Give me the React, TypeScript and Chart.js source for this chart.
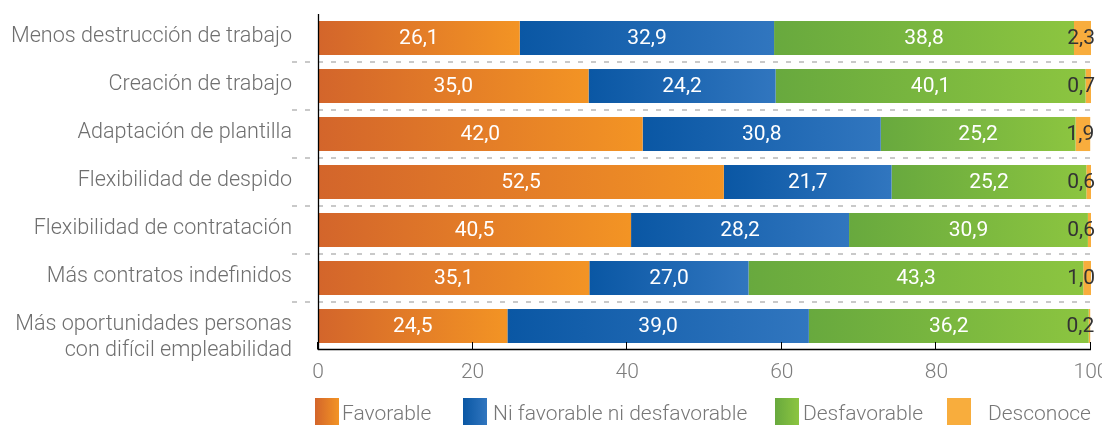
import React, { useEffect, useRef } from "react";
import { Chart, registerables } from "chart.js";

Chart.register(...registerables);

const categories: (string | string[])[] = [
  "Menos destrucción de trabajo",
  "Creación de trabajo",
  "Adaptación de plantilla",
  "Flexibilidad de despido",
  "Flexibilidad de contratación",
  "Más contratos indefinidos",
  ["", "Más oportunidades personas", "con difícil empleabilidad"],
];

const seriesNames = ["Favorable", "Ni favorable ni desfavorable", "Desfavorable", "Desconoce"];

const favorable = [26.1, 35.0, 42.0, 52.5, 40.5, 35.1, 24.5];
const neutral = [32.9, 24.2, 30.8, 21.7, 28.2, 20.6, 39.0];
const unfavorable = [38.8, 40.1, 25.2, 25.2, 30.9, 43.3, 36.2];
const unknown = [2.3, 0.7, 1.9, 0.6, 0.6, 1.0, 0.2];

// printed labels (the original prints 27,0 on a bar drawn about 20.6 wide)
const neutralPrinted = ["32,9", "24,2", "30,8", "21,7", "28,2", "27,0", "39,0"];

const xTicks = [0, 20, 40, 60, 80, 100];

const series = [favorable, neutral, unfavorable, unknown];
const gradients: [string, string][] = [
  ["#d3652b", "#f39424"],
  ["#0a57a4", "#3176bf"],
  ["#68a93e", "#8cc540"],
  ["#f8ad3d", "#f8ad3d"],
];

const FONT = "Roboto";
const fmt = (v: number) => v.toFixed(1).replace(".", ",");

const decor = {
  id: "decor",
  afterDatasetsDraw(chart: any) {
    const { ctx, chartArea: a, scales } = chart;
    const xs = scales.x;
    const ys = scales.y;
    ctx.save();
    // dashed separators
    ctx.strokeStyle = "#c9c9c9";
    ctx.lineWidth = 2;
    ctx.setLineDash([5, 8]);
    for (let i = 0; i < categories.length - 1; i++) {
      const y = Math.round((ys.getPixelForValue(i) + ys.getPixelForValue(i + 1)) / 2);
      ctx.beginPath();
      ctx.moveTo(a.left - 26, y);
      ctx.lineTo(a.right, y);
      ctx.stroke();
    }
    ctx.setLineDash([]);
    // axes
    ctx.strokeStyle = "#000";
    ctx.lineWidth = 1.3;
    ctx.beginPath();
    ctx.moveTo(a.left + 0.5, a.top);
    ctx.lineTo(a.left + 0.5, a.bottom - 0.5);
    ctx.lineTo(a.right, a.bottom - 0.5);
    ctx.stroke();
    ctx.lineWidth = 1;
    for (const t of xTicks) {
      const x = Math.round(xs.getPixelForValue(t)) - 0.5;
      ctx.beginPath();
      ctx.moveTo(x, a.bottom - 0.5);
      ctx.lineTo(x, a.bottom - 8);
      ctx.stroke();
    }
    // value labels
    ctx.font = `400 21px ${FONT}`;
    ctx.textBaseline = "middle";
    chart.data.datasets.forEach((ds: any, di: number) => {
      const meta = chart.getDatasetMeta(di);
      meta.data.forEach((el: any, i: number) => {
        const txt = di === 1 ? neutralPrinted[i] : fmt(series[di][i]);
        if (di === 3) {
          ctx.fillStyle = "#333333";
          ctx.textAlign = "right";
          ctx.fillText(txt, Math.min(el.x, a.right) + 4, el.y + 1);
        } else {
          ctx.fillStyle = "#ffffff";
          ctx.textAlign = "center";
          ctx.fillText(txt, (el.x + el.base) / 2, el.y + 1);
        }
      });
    });
    ctx.restore();
  },
};

export default function App() {
  const ref = useRef<HTMLCanvasElement>(null);
  useEffect(() => {
    if (!ref.current) return;
    const chart = new Chart(ref.current, {
      type: "bar",
      data: {
        labels: categories as any,
        datasets: series.map((vals, di) => ({
          label: seriesNames[di],
          data: vals,
          barPercentage: 0.71,
          categoryPercentage: 1,
          borderWidth: 0,
          backgroundColor: (c: any) => {
            const chart = c.chart;
            const area = chart.chartArea;
            if (!area || c.type !== "data") return gradients[di][1];
            const i = c.dataIndex;
            let start = 0;
            for (let k = 0; k < di; k++) start += series[k][i];
            const xs = chart.scales.x;
            const x0 = xs.getPixelForValue(start);
            const x1 = xs.getPixelForValue(start + vals[i]);
            if (!isFinite(x0) || !isFinite(x1) || x1 - x0 < 1) return gradients[di][1];
            const g = chart.ctx.createLinearGradient(x0, 0, x1, 0);
            g.addColorStop(0, gradients[di][0]);
            g.addColorStop(1, gradients[di][1]);
            return g;
          },
        })),
      },
      options: {
        animation: false,
        responsive: true,
        maintainAspectRatio: false,
        indexAxis: "y",
        layout: { padding: { top: 6, right: 19, bottom: 0, left: 0 } },
        plugins: { legend: { display: false }, tooltip: { enabled: false } },
        scales: {
          x: {
            stacked: true,
            min: 0,
            max: 100,
            afterBuildTicks: (s: any) => {
              s.ticks = xTicks.map((v) => ({ value: v }));
            },
            afterFit: (s: any) => {
              s.height = 50;
              s.paddingLeft = 0;
              s.paddingRight = 0;
            },
            grid: { display: false, drawTicks: false },
            border: { display: false },
            ticks: {
              padding: 10,
              color: "#7d7d7d",
              font: { family: FONT, size: 21, weight: "300" },
              maxRotation: 0,
              autoSkip: false,
            },
          },
          y: {
            stacked: true,
            afterFit: (s: any) => {
              s.width = 310;
              s.paddingTop = 0;
              s.paddingBottom = 0;
            },
            grid: { display: false, drawTicks: false },
            border: { display: false },
            ticks: {
              padding: 26,
              labelOffset: -1,
              color: "#6f6f6f",
              font: { family: FONT, size: 21.6, weight: "300", lineHeight: 1.17 },
              autoSkip: false,
            },
          },
        },
      },
      plugins: [decor],
    });
    return () => chart.destroy();
  }, []);

  const boxLeft = [307, 455, 767, 939];
  const textLeft = [334, 485, 795, 980];
  return (
    <div style={{ position: "relative", width: 1102, height: 417, fontFamily: FONT }}>
      <div style={{ position: "relative", width: 1102, height: 392 }}>
        <canvas ref={ref} />
      </div>
      {seriesNames.map((n, i) => (
        <React.Fragment key={n}>
          <div
            style={{
              position: "absolute",
              left: boxLeft[i],
              top: 390,
              width: 24,
              height: 27,
              background: `linear-gradient(to right, ${gradients[i][0]}, ${gradients[i][1]})`,
            }}
          />
          <div
            style={{
              position: "absolute",
              left: textLeft[i],
              top: 392,
              fontSize: 21,
              fontWeight: 300,
              lineHeight: "26px",
              color: "#777777",
              whiteSpace: "nowrap",
            }}
          >
            {n}
          </div>
        </React.Fragment>
      ))}
    </div>
  );
}
